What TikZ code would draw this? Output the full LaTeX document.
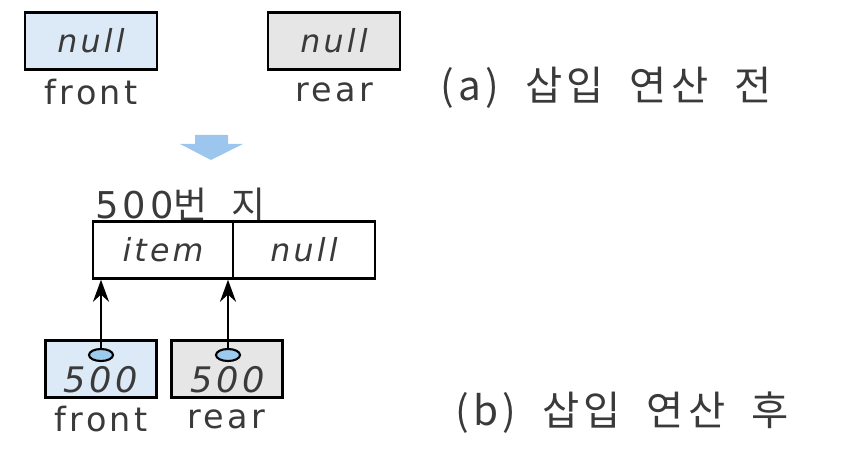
\documentclass[tikz,border=0pt]{standalone}
\usepackage{fontspec}
\setmainfont{DejaVu Sans}
\newfontfamily\krfont[LetterSpace=10,WordSpace=2.0]{Noto Sans CJK KR}
\newfontfamily\lblfont[LetterSpace=10]{DejaVu Sans}
\usetikzlibrary{shapes.geometric,arrows.meta}

\definecolor{frontblue}{HTML}{DCEAF8}
\definecolor{reargray}{HTML}{E6E6E6}
\definecolor{dotblue}{HTML}{9CCBF0}
\definecolor{downblue}{HTML}{9DC6EE}
\definecolor{inkgray}{HTML}{3A3A3A}

\tikzset{
  cell/.style={draw, line width=0.7pt, inner sep=0pt, text=inkgray,
    font=\lblfont\itshape\fontsize{9}{10}\selectfont},
  varbox/.style={cell, minimum height=0.57cm},
  lbl/.style={inner sep=0pt, text=inkgray, font=\lblfont\fontsize{9.5}{11}\selectfont},
  caption/.style={inner sep=0pt, anchor=west, text=inkgray, font=\krfont\fontsize{11.5}{13}\selectfont},
  dot/.style={ellipse, draw, fill=dotblue, line width=0.6pt,
    minimum width=0.24cm, minimum height=0.12cm, inner sep=0pt},
  ptr/.style={-{Stealth[length=2.2mm, width=1.6mm]}, line width=0.7pt}
}

\begin{document}
\begin{tikzpicture}[x=0.01cm, y=-0.01cm]
  % keep the page the size of the reference
  \useasboundingbox (0,0) rectangle (860,449);

  % (a) before insertion
  \node[varbox, fill=frontblue, minimum width=1.32cm] (front0) at (91,41) {null};
  \node[lbl] (front0lbl) at (91,92) {front};
  \node[varbox, fill=reargray, minimum width=1.32cm] (rear0) at (334,41) {null};
  \node[lbl] (rear0lbl) at (334,92) {rear};
  \node[caption] (capa) at (440,88) {(a) 삽입 연산 전};

  % down arrow between the two states
  \fill[downblue] (195,135) -- (228,135) -- (228,144) -- (243,144)
    -- (211,160) -- (180,144) -- (195,144) -- cycle;

  % (b) after insertion: the new node at 500
  \node[lbl, anchor=west, font=\lblfont\fontsize{10.5}{12}\selectfont] (addr) at (95,205)
    {500\krfont\fontsize{10.5}{12}\selectfont 번 지};
  \node[cell, minimum width=1.40cm, minimum height=0.57cm] (item) at (163,250) {item};
  \node[cell, minimum width=1.42cm, minimum height=0.57cm] (link) at (304,250) {null};

  % front and rear now hold 500
  \node[varbox, fill=frontblue, minimum width=1.11cm, minimum height=0.57cm] (front1) at (101,369) {};
  \node[varbox, fill=reargray, minimum width=1.11cm, minimum height=0.57cm] (rear1) at (227,369) {};
  \node[dot] (fdot) at (101,355) {};
  \node[dot] (rdot) at (228,355) {};
  \node[cell, draw=none, font=\lblfont\itshape\fontsize{10}{12}\selectfont] (fval) at (101,380) {500};
  \node[cell, draw=none, font=\lblfont\itshape\fontsize{10}{12}\selectfont] (rval) at (228,380) {500};
  \node[lbl] (front1lbl) at (101,419) {front};
  \node[lbl] (rear1lbl) at (226,419) {rear};

  \draw[ptr] (fdot.north) -- (fdot.north |- item.south);
  \draw[ptr] (rdot.north) -- (rdot.north |- item.south);

  \node[caption] (capb) at (455,413) {(b) 삽입 연산 후};
\end{tikzpicture}
\end{document}
